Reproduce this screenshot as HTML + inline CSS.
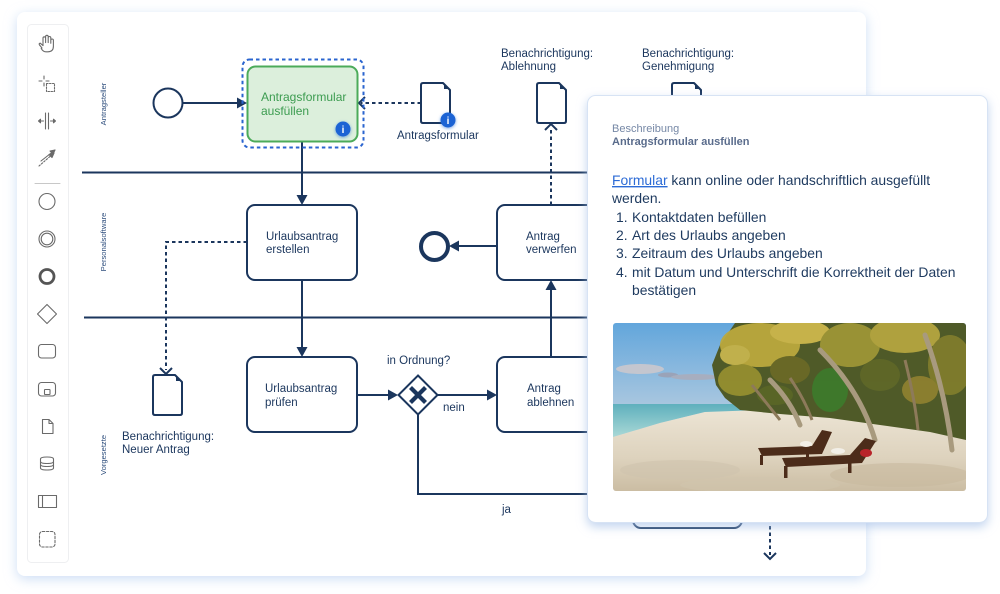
<!DOCTYPE html>
<html><head><meta charset="utf-8">
<style>
html,body{margin:0;padding:0;background:#fff;}
body{width:1000px;height:594px;overflow:hidden;}
svg{display:block;}
text{font-family:"Liberation Sans",sans-serif;}
</style></head><body>
<svg width="1000" height="594" viewBox="0 0 1000 594" xmlns="http://www.w3.org/2000/svg">
<defs>
<filter id="sh" x="-10%" y="-10%" width="120%" height="125%">
<feDropShadow dx="0" dy="3" stdDeviation="6" flood-color="#bcd2f2" flood-opacity="0.75"/>
</filter>
<filter id="sh2" x="-10%" y="-10%" width="120%" height="125%">
<feDropShadow dx="0" dy="4" stdDeviation="5" flood-color="#a9c2e8" flood-opacity="0.7"/>
</filter>
<filter id="glow" x="-50%" y="-50%" width="200%" height="200%">
<feDropShadow dx="0" dy="1" stdDeviation="1.5" flood-color="#1a66d6" flood-opacity="0.6"/>
</filter>
<clipPath id="imgclip"><rect x="613" y="323" width="353" height="168" rx="3"/></clipPath>
<linearGradient id="sky" x1="0" y1="0" x2="0" y2="1">
<stop offset="0" stop-color="#62a6dc"/><stop offset="0.45" stop-color="#a3c4df"/><stop offset="1" stop-color="#e6e4de"/>
</linearGradient>
<linearGradient id="sand" x1="0" y1="0" x2="0" y2="1">
<stop offset="0" stop-color="#ece4d4"/><stop offset="0.6" stop-color="#ddd2bd"/><stop offset="1" stop-color="#cbbda3"/>
</linearGradient>
<linearGradient id="sea" x1="0" y1="0" x2="0" y2="1">
<stop offset="0" stop-color="#5fb0bd"/><stop offset="1" stop-color="#a9d8d6"/>
</linearGradient>
</defs>

<!-- canvas card -->
<rect x="17" y="12" width="849" height="564" rx="8" fill="#fff" filter="url(#sh)"/>

<!-- toolbar -->
<rect x="27.5" y="24.5" width="41" height="538" rx="4" fill="#fff" stroke="#eeeff1"/>
<g fill="none" stroke="#6a6a6a" stroke-width="1.1" stroke-linecap="round" stroke-linejoin="round">
  <path d="M42 48 l-2.5 -3 q-1 -1.6 0.8 -1.8 l2.7 2.4 v-7.5 q0 -1.3 1.3 -1.3 q1.3 0 1.3 1.3 v4.5 v-6 q0 -1.3 1.3 -1.3 q1.3 0 1.3 1.3 v6 v-4.8 q0 -1.3 1.3 -1.3 q1.3 0 1.3 1.3 v5.5 v-3 q0 -1.3 1.3 -1.3 q1.3 0 1.3 1.3 v6 q0 5.5 -5.5 5.5 h-2 q-2.8 0 -4.7 -3.3 z"/>
  <path d="M44 76 v3 M44 83 v3 M39 81 h3 M46 81 h3"/>
  <rect x="46.5" y="83.5" width="8" height="8" stroke-dasharray="1.6 1.4"/>
  <path d="M45.5 113 v16 M48.5 113 v16 M38.5 121 h5 M50.5 121 h5"/>
  <path d="M38.5 121 l2 -1.8 v3.6 z M55.5 121 l-2 -1.8 v3.6 z" fill="#6a6a6a"/>
  <path d="M39 166 L54 153" stroke-dasharray="1.6 1.6"/>
  <path d="M41 161 L55 150"/>
  <path d="M55 150 l-5 1 l3 3 z M54 153 l-5 1.5 l3 3 z" fill="#6a6a6a"/>
  <line x1="35" y1="183.5" x2="60" y2="183.5" stroke="#c8c8c8"/>
  <circle cx="47" cy="201.5" r="8"/>
  <circle cx="47" cy="239" r="8"/>
  <circle cx="47" cy="239" r="5.8"/>
  <circle cx="47" cy="276.5" r="7" stroke-width="2.8" stroke="#555"/>
  <path d="M47 304.5 L56.5 314 L47 323.5 L37.5 314 z"/>
  <rect x="38.5" y="344.5" width="17" height="13.5" rx="3"/>
  <rect x="38.5" y="382.5" width="17" height="13.5" rx="3"/>
  <rect x="44.5" y="389.5" width="5.5" height="5" rx="0.5"/>
  <path d="M42.5 419.5 h6.5 l4 4 v10 h-10.5 z M49 419.5 v4 h4"/>
  <path d="M40.5 459 q0 -2 6.5 -2 q6.5 0 6.5 2 v9 q0 2 -6.5 2 q-6.5 0 -6.5 -2 z M40.5 461.5 q0 2 6.5 2 q6.5 0 6.5 -2 M40.5 464.5 q0 2 6.5 2 q6.5 0 6.5 -2"/>
  <rect x="38.5" y="495.5" width="18" height="12"/>
  <path d="M42.5 495.5 v12"/>
  <rect x="39.5" y="531.5" width="15.5" height="15.5" rx="3" stroke-dasharray="2.4 1.6"/>
</g>

<!-- lane labels -->
<g fill="#2d4d7c" font-size="7.6">
  <text transform="translate(106,104) rotate(-90)" text-anchor="middle">Antragsteller</text>
  <text transform="translate(106,242) rotate(-90)" text-anchor="middle">Personalsoftware</text>
  <text transform="translate(106,455) rotate(-90)" text-anchor="middle">Vorgesetzte</text>
</g>

<!-- lane lines -->
<g stroke="#1b365d" stroke-width="2">
  <line x1="82" y1="172.5" x2="866" y2="172.5"/>
  <line x1="84" y1="317.5" x2="866" y2="317.5"/>
</g>

<g stroke="#1b365d" stroke-width="2" fill="none">
  <circle cx="168" cy="103" r="14.5" fill="#fff"/>
  <line x1="183" y1="103" x2="239" y2="103"/>
  <line x1="302" y1="142" x2="302" y2="198"/>
  <line x1="302" y1="280" x2="302" y2="350"/>
  <line x1="357" y1="395" x2="391" y2="395"/>
  <line x1="438" y1="395" x2="490" y2="395"/>
  <line x1="551" y1="357" x2="551" y2="287"/>
  <line x1="497" y1="246" x2="456" y2="246"/>
  <polyline points="418,414 418,494 650,494"/>
  <rect x="247" y="205" width="110" height="75" rx="8" fill="#fff"/>
  <rect x="247" y="357" width="110" height="75" rx="8" fill="#fff"/>
  <rect x="497" y="205" width="110" height="75" rx="8" fill="#fff"/>
  <rect x="497" y="357" width="110" height="75" rx="8" fill="#fff"/>
  <rect x="633" y="452" width="109" height="76" rx="8" fill="#fff"/>
  <path d="M418 375.5 L437.5 395 L418 414.5 L398.5 395 z" fill="#fff"/>
  <circle cx="434.5" cy="246.5" r="13.5" stroke-width="4" fill="#fff"/>
</g>
<path d="M410.5 387.5 L425.5 402.5 M425.5 387.5 L410.5 402.5" stroke="#1b365d" stroke-width="4.2" stroke-linecap="butt"/>

<g fill="#1b365d">
  <polygon points="247,103 237,97.5 237,108.5"/>
  <polygon points="302,205 296.5,195 307.5,195"/>
  <polygon points="302,357 296.5,347 307.5,347"/>
  <polygon points="398,395 388,389.5 388,400.5"/>
  <polygon points="497,395 487,389.5 487,400.5"/>
  <polygon points="551,280 545.5,290 556.5,290"/>
  <polygon points="449,246 459,240.5 459,251.5"/>
</g>

<g stroke="#1b365d" stroke-width="2" fill="none" stroke-dasharray="3.5 3">
  <line x1="421" y1="103" x2="361" y2="103"/>
  <polyline points="247,242 166,242 166,370"/>
  <line x1="551" y1="205" x2="551" y2="127"/>
  <line x1="770" y1="500" x2="770" y2="555"/>
</g>
<g stroke="#1b365d" stroke-width="2" fill="none">
  <polyline points="365,97 359,103 365,109"/>
  <polyline points="160,368 166,374 172,368"/>
  <polyline points="545,130 551,124 557,130"/>
  <polyline points="764,553 770,559 776,553"/>
</g>

<rect x="242.5" y="59.5" width="121" height="88" rx="7" fill="none" stroke="#2a64cf" stroke-width="2" stroke-dasharray="3.5 3"/>
<rect x="247.5" y="66.5" width="110" height="75" rx="8" fill="#dcefdc" stroke="#4cab5a" stroke-width="2"/>
<text x="261" y="101" font-size="12" fill="#3c9c50">Antragsformular</text>
<text x="261" y="115" font-size="12" fill="#3c9c50">ausfüllen</text>
<circle cx="343" cy="129" r="7.5" fill="#1a63d4" filter="url(#glow)"/>
<text x="343" y="133" font-size="10" fill="#fff" text-anchor="middle" font-weight="bold">i</text>

<g stroke="#1b365d" stroke-width="2" fill="#fff" stroke-linejoin="round">
  <path d="M423 83 h20 l7 7 v31 q0 2 -2 2 h-25 q-2 0 -2 -2 v-36 q0 -2 2 -2 z"/>
  <path d="M539 83 h20 l7 7 v31 q0 2 -2 2 h-25 q-2 0 -2 -2 v-36 q0 -2 2 -2 z"/>
  <path d="M674 83 h20 l7 7 v31 q0 2 -2 2 h-25 q-2 0 -2 -2 v-36 q0 -2 2 -2 z"/>
  <path d="M155 375 h20 l7 7 v31 q0 2 -2 2 h-25 q-2 0 -2 -2 v-36 q0 -2 2 -2 z"/>
</g>
<g fill="#1b365d">
  <polygon points="444,84 444,89 449,89"/>
  <polygon points="560,84 560,89 565,89"/>
  <polygon points="695,84 695,89 700,89"/>
  <polygon points="176,376 176,381 181,381"/>
</g>
<circle cx="448" cy="120" r="7.5" fill="#1a63d4" filter="url(#glow)"/>
<text x="448" y="124" font-size="10" fill="#fff" text-anchor="middle" font-weight="bold">i</text>

<g fill="#1b365d" font-size="11.5">
  <text x="397" y="139">Antragsformular</text>
  <text x="501" y="57">Benachrichtigung:</text>
  <text x="501" y="70">Ablehnung</text>
  <text x="642" y="57">Benachrichtigung:</text>
  <text x="642" y="70">Genehmigung</text>
  <text x="122" y="440">Benachrichtigung:</text>
  <text x="122" y="453">Neuer Antrag</text>
  <text x="266" y="240">Urlaubsantrag</text>
  <text x="266" y="253">erstellen</text>
  <text x="265" y="392">Urlaubsantrag</text>
  <text x="265" y="406">prüfen</text>
  <text x="526" y="240">Antrag</text>
  <text x="526" y="253">verwerfen</text>
  <text x="527" y="392">Antrag</text>
  <text x="527" y="406">ablehnen</text>
  <text x="387" y="364">in Ordnung?</text>
  <text x="443" y="411">nein</text>
  <text x="502" y="513">ja</text>
</g>

<!-- popup -->
<rect x="587.5" y="95.5" width="400" height="427" rx="8" fill="#fff" stroke="#d7e3f4" filter="url(#sh2)"/>
<text x="612" y="132" font-size="11" fill="#7688a6">Beschreibung</text>
<text x="612" y="145" font-size="11" fill="#5a6c8c" font-weight="bold">Antragsformular ausfüllen</text>
<g font-size="13.9" fill="#1e3a5f">
  <text x="612" y="185"><tspan fill="#2c6bd6" text-decoration="underline">Formular</tspan> kann online oder handschriftlich ausgefüllt</text>
  <text x="612" y="203">werden.</text>
  <text x="616" y="222">1.</text><text x="632" y="222">Kontaktdaten befüllen</text>
  <text x="616" y="240">2.</text><text x="632" y="240">Art des Urlaubs angeben</text>
  <text x="616" y="258">3.</text><text x="632" y="258">Zeitraum des Urlaubs angeben</text>
  <text x="616" y="277">4.</text><text x="632" y="277">mit Datum und Unterschrift die Korrektheit der Daten</text>
  <text x="632" y="295">bestätigen</text>
</g>

<!-- image -->
<g clip-path="url(#imgclip)">
  <rect x="613" y="323" width="353" height="168" fill="url(#sky)"/>
  <ellipse cx="640" cy="369" rx="24" ry="5" fill="#c4c6cf"/>
  <ellipse cx="668" cy="375" rx="10" ry="2.5" fill="#9aa3b8"/>
  <ellipse cx="695" cy="377" rx="24" ry="3" fill="#a7aebf"/>
  <polygon points="613,404 760,404 760,413 705,412 660,423 613,437" fill="url(#sea)"/>
  <polygon points="613,437 660,423 705,412 760,410 966,418 966,491 613,491" fill="url(#sand)"/>
  <ellipse cx="680" cy="470" rx="60" ry="10" fill="#cfc3ad" opacity="0.6"/>
  <ellipse cx="900" cy="475" rx="70" ry="12" fill="#c8b99f" opacity="0.6"/>
  <ellipse cx="760" cy="485" rx="80" ry="8" fill="#d0c4ad" opacity="0.6"/>
  <path d="M735 323 H966 V440 L930 432 L880 425 L830 418 L780 414 L740 410 L725 398 L716 385 L712 365 L720 345 Z" fill="#4f5a28"/>
  <g opacity="0.95">
    <ellipse cx="760" cy="345" rx="40" ry="22" fill="#bba93e"/>
    <ellipse cx="740" cy="380" rx="22" ry="16" fill="#958f30"/>
    <ellipse cx="800" cy="332" rx="30" ry="12" fill="#cdb84c"/>
    <ellipse cx="850" cy="345" rx="30" ry="22" fill="#9e9636"/>
    <ellipse cx="905" cy="335" rx="35" ry="18" fill="#b5a640"/>
    <ellipse cx="950" cy="365" rx="22" ry="30" fill="#807d2d"/>
    <ellipse cx="790" cy="370" rx="20" ry="14" fill="#6b6a26"/>
    <ellipse cx="830" cy="390" rx="18" ry="22" fill="#3e7a2c"/>
    <ellipse cx="880" cy="375" rx="20" ry="16" fill="#5f6828"/>
    <ellipse cx="920" cy="390" rx="18" ry="14" fill="#8e8030"/>
    <ellipse cx="735" cy="355" rx="15" ry="10" fill="#c7b64e"/>
    <ellipse cx="775" cy="395" rx="18" ry="10" fill="#5a6626"/>
  </g>
  <g stroke="#a89a7e" stroke-width="5" fill="none" stroke-linecap="round">
    <path d="M820 350 Q860 390 875 440"/>
    <path d="M925 335 Q945 390 952 450"/>
    <path d="M770 380 Q790 400 800 425"/>
  </g>
  <g stroke="#8d7a5a" stroke-width="3" fill="none">
    <path d="M752 385 Q768 405 780 420"/>
    <path d="M790 378 Q805 400 812 420"/>
    <path d="M905 360 Q915 400 918 430"/>
  </g>
  <g fill="#4c2c1a">
    <polygon points="758,448 812,446 822,430 832,432 822,454 762,456"/>
    <rect x="760" y="455" width="3" height="10"/>
    <rect x="806" y="452" width="3" height="10"/>
    <polygon points="782,458 850,455 865,438 876,441 862,463 786,467"/>
    <rect x="784" y="466" width="3.5" height="12"/>
    <rect x="848" y="461" width="3.5" height="12"/>
  </g>
  <ellipse cx="806" cy="444" rx="6" ry="3" fill="#f2efe8"/>
  <ellipse cx="838" cy="451" rx="7" ry="3" fill="#f2efe8"/>
  <ellipse cx="866" cy="453" rx="6" ry="4" fill="#b8242a"/>
</g>
</svg>
</body></html>
